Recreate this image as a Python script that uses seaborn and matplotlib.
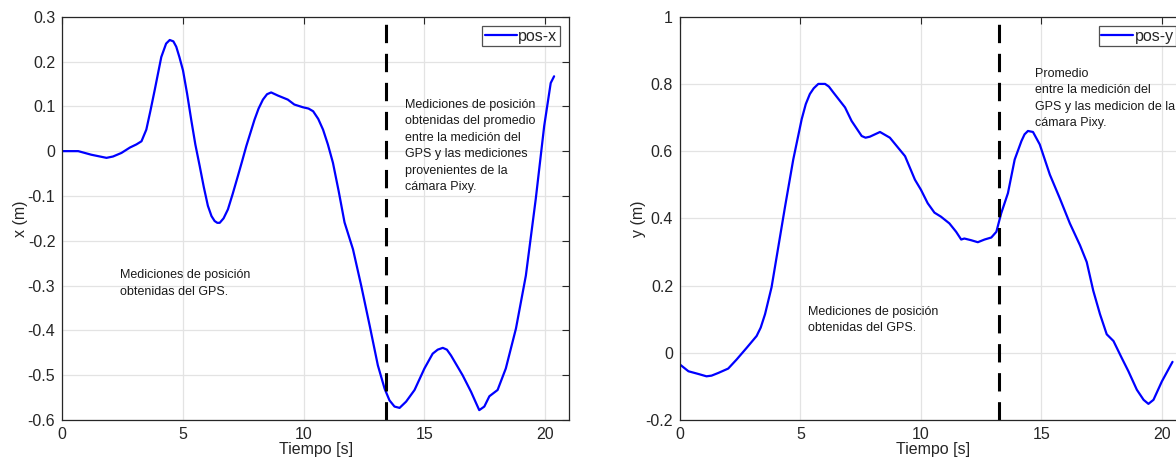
import numpy as np
import pandas as pd
import matplotlib
matplotlib.use("Agg")
import matplotlib.pyplot as plt
import seaborn as sns
from matplotlib.ticker import FuncFormatter

# ---- data ----
t_x = [0, 0.66, 1.2, 1.83, 2.1, 2.45, 2.8, 3.07, 3.28, 3.48, 3.65, 3.83, 4.1,
       4.3, 4.45, 4.6, 4.72, 4.85, 5.0, 5.17, 5.34, 5.51, 5.69, 5.86, 6.03,
       6.18, 6.31, 6.42, 6.52, 6.68, 6.86, 7.06, 7.27, 7.45, 7.62, 7.96, 8.13,
       8.31, 8.48, 8.65, 8.93, 9.34, 9.61, 9.96, 10.2, 10.39, 10.6, 10.8,
       11.0, 11.21, 11.45, 11.69, 12.04, 12.38, 12.73, 13.07, 13.35, 13.55,
       13.76, 13.97, 14.24, 14.59, 15.0, 15.34, 15.55, 15.76, 15.93, 16.1,
       16.58, 16.93, 17.12, 17.27, 17.48, 17.69, 18.03, 18.37, 18.79, 19.2,
       19.61, 19.96, 20.23, 20.37]
pos_x = [0, 0, -0.008, -0.015, -0.012, -0.004, 0.008, 0.015, 0.022, 0.048,
         0.09, 0.137, 0.21, 0.24, 0.248, 0.245, 0.233, 0.21, 0.18, 0.128,
         0.07, 0.015, -0.033, -0.08, -0.122, -0.145, -0.156, -0.16, -0.16,
         -0.15, -0.13, -0.095, -0.056, -0.022, 0.011, 0.07, 0.095, 0.115,
         0.127, 0.131, 0.124, 0.115, 0.104, 0.098, 0.095, 0.089, 0.072, 0.048,
         0.015, -0.026, -0.09, -0.159, -0.219, -0.3, -0.389, -0.478, -0.53,
         -0.556, -0.57, -0.573, -0.559, -0.533, -0.485, -0.452, -0.443,
         -0.439, -0.443, -0.456, -0.5, -0.537, -0.56, -0.578, -0.57, -0.547,
         -0.533, -0.485, -0.396, -0.278, -0.107, 0.056, 0.152, 0.167]

t_y = [0, 0.35, 0.76, 1.1, 1.31, 1.59, 2.0, 2.35, 2.77, 3.18, 3.35, 3.53, 3.8,
       4.08, 4.36, 4.7, 5.05, 5.22, 5.39, 5.55, 5.74, 6.02, 6.18, 6.36, 6.85,
       7.12, 7.54, 7.7, 7.88, 8.3, 8.71, 9.34, 9.75, 10.0, 10.28, 10.56, 10.83,
       11.18, 11.46, 11.67, 11.8, 12.08, 12.36, 12.64, 12.92, 13.13, 13.33,
       13.61, 13.89, 14.17, 14.3, 14.44, 14.65, 14.93, 15.35, 15.76, 16.18,
       16.6, 16.88, 17.15, 17.43, 17.71, 17.99, 18.33, 18.61, 18.96, 19.24,
       19.44, 19.65, 20.0, 20.44]
pos_y = [-0.035, -0.055, -0.063, -0.07, -0.068, -0.06, -0.047, -0.02, 0.015,
         0.05, 0.075, 0.115, 0.195, 0.315, 0.435, 0.575, 0.695, 0.74, 0.77,
         0.787, 0.8, 0.8, 0.792, 0.775, 0.73, 0.69, 0.645, 0.64, 0.643, 0.657,
         0.64, 0.585, 0.515, 0.485, 0.445, 0.417, 0.405, 0.385, 0.36, 0.337,
         0.34, 0.335, 0.329, 0.337, 0.343, 0.36, 0.415, 0.475, 0.575, 0.63,
         0.65, 0.66, 0.657, 0.62, 0.53, 0.46, 0.385, 0.32, 0.27, 0.185, 0.115,
         0.055, 0.035, -0.015, -0.055, -0.11, -0.14, -0.152, -0.14, -0.085,
         -0.027]

split_x = 13.4
split_y = 13.22

xticks = [0, 5, 10, 15, 20]
yticks_x = [-0.6, -0.5, -0.4, -0.3, -0.2, -0.1, 0, 0.1, 0.2, 0.3]
yticks_y = [-0.2, 0, 0.2, 0.4, 0.6, 0.8, 1]

txt_gps = "Mediciones de posición\nobtenidas del GPS."
txt_left = ("Mediciones de posición\nobtenidas del promedio\nentre la medición del\n"
            "GPS y las mediciones\nprovenientes de la\ncámara Pixy.")
txt_right = "Promedio\nentre la medición del\nGPS y las medicion de la\ncámara Pixy."

# ---- style ----
sns.set_theme(style="white")
plt.rcParams["font.family"] = ["Liberation Sans", "DejaVu Sans"]
dark = "#262626"

fig = plt.figure(figsize=(11.76, 4.63), dpi=100)
ax1 = fig.add_axes([62.3 / 1176, 43 / 463, 507 / 1176, 403.3 / 463])
ax2 = fig.add_axes([680 / 1176, 43 / 463, 506 / 1176, 403.3 / 463])

df_x = pd.DataFrame({"t": t_x, "v": pos_x})
df_y = pd.DataFrame({"t": t_y, "v": pos_y})

fmt = FuncFormatter(lambda v, p: ("%g" % round(v, 6)))


def style(ax, yticks, ylim, ylabel):
    ax.set_xlim(0, 21)
    ax.set_ylim(*ylim)
    ax.set_xticks(xticks)
    ax.set_yticks(yticks)
    ax.xaxis.set_major_formatter(fmt)
    ax.yaxis.set_major_formatter(fmt)
    ax.grid(True, color="#e3e3e3", linewidth=0.9)
    ax.set_axisbelow(True)
    for s in ax.spines.values():
        s.set_color(dark)
        s.set_linewidth(0.9)
        s.set_visible(True)
    ax.tick_params(direction="in", top=True, right=True, length=5, width=0.8,
                   colors=dark, labelsize=11.5, pad=5)
    ax.set_xlabel("Tiempo [s]", fontsize=11.5, color=dark, labelpad=0)
    ax.set_ylabel(ylabel, fontsize=11.5, color=dark, labelpad=0)


sns.lineplot(data=df_x, x="t", y="v", ax=ax1, color="#0000ff", linewidth=1.6,
             label="pos-x", sort=False)
ax1.axvline(split_x, color="black", linewidth=2.2, linestyle=(0, (6, 3.5)))
style(ax1, yticks_x, (-0.6, 0.3), "x (m)")
ax1.text(2.4, -0.295, txt_gps, fontsize=9, va="center", ha="left",
         color="#1a1a1a", linespacing=1.5)
ax1.text(14.2, 0.012, txt_left, fontsize=9, va="center", ha="left",
         color="#1a1a1a", linespacing=1.5)

sns.lineplot(data=df_y, x="t", y="v", ax=ax2, color="#0000ff", linewidth=1.6,
             label="pos-y", sort=False)
ax2.axvline(split_y, color="black", linewidth=2.2, linestyle=(0, (6, 3.5)))
style(ax2, yticks_y, (-0.2, 1), "y (m)")
ax2.text(5.3, 0.097, txt_gps, fontsize=9, va="center", ha="left",
         color="#1a1a1a", linespacing=1.5)
ax2.text(14.75, 0.757, txt_right, fontsize=9, va="center", ha="left",
         color="#1a1a1a", linespacing=1.5)

for ax in (ax1, ax2):
    leg = ax.legend(loc="upper right", fontsize=11.5, frameon=True,
                    fancybox=False, handlelength=2.0, handletextpad=0.1,
                    borderpad=0.15, borderaxespad=0.6, edgecolor=dark)
    leg.get_frame().set_linewidth(0.9)

fig.savefig("out.png", dpi=100)
